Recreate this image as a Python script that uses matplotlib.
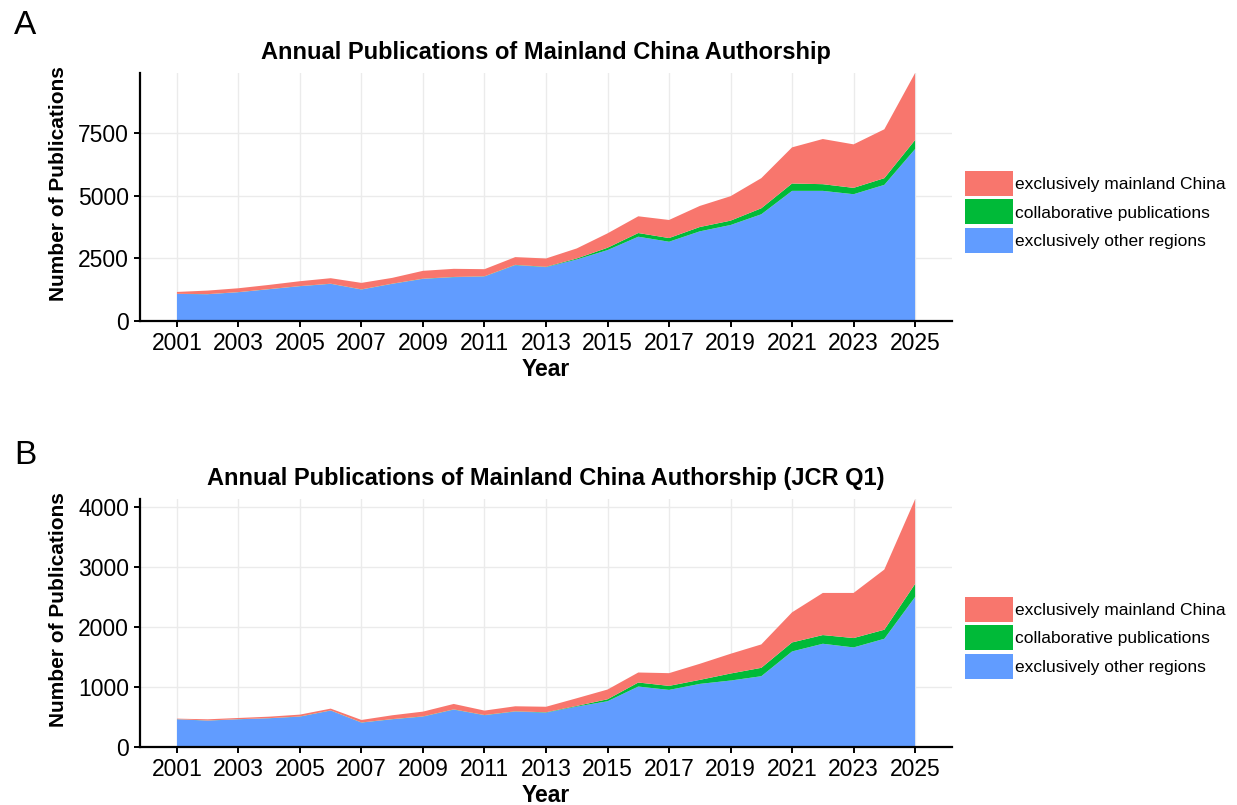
import numpy as np
import matplotlib
matplotlib.use("Agg")
import matplotlib.pyplot as plt
from matplotlib.patches import Patch

plt.rcParams['font.family'] = ['Liberation Sans', 'DejaVu Sans']

years = list(range(2001, 2026))
series_labels = ["exclusively mainland China", "collaborative publications", "exclusively other regions"]
colors = ["#F8766D", "#00BA38", "#619CFF"]

# all journals
all_other = [1081, 1068, 1148, 1268, 1388, 1482, 1255, 1482, 1682, 1749, 1776, 2229, 2149,
             2456, 2830, 3364, 3164, 3578, 3831, 4259, 5193, 5193, 5060, 5433, 6862]
all_collab = [5, 5, 5, 6, 6, 7, 7, 8, 8, 9, 10, 12, 14,
              40, 94, 147, 147, 173, 174, 240, 294, 267, 253, 267, 360]
all_mainland = [75, 142, 155, 168, 195, 220, 260, 232, 313, 325, 283, 309, 333,
                401, 574, 668, 721, 841, 975, 1201, 1442, 1802, 1736, 1950, 2670]

# JCR Q1 journals
q1_other = [457, 435, 457, 474, 501, 602, 401, 457, 501, 618, 524, 585, 568,
            669, 758, 1003, 947, 1047, 1103, 1175, 1588, 1716, 1655, 1799, 2496]
q1_collab = [2, 2, 2, 2, 3, 3, 3, 3, 4, 4, 4, 5, 6,
             11, 33, 67, 67, 67, 117, 140, 150, 145, 156, 151, 217]
q1_mainland = [9, 20, 20, 25, 31, 30, 42, 64, 80, 91, 74, 84, 92,
               128, 162, 167, 212, 268, 329, 390, 502, 702, 752, 1003, 1410]

fig = plt.figure(figsize=(12.37, 8.05), dpi=100)

panels = [
    ("A", "Annual Publications of Mainland China Authorship",
     all_other, all_collab, all_mainland, [0, 2500, 5000, 7500], [0.1132, 0.6012, 0.6564, 0.308]),
    ("B", "Annual Publications of Mainland China Authorship (JCR Q1)",
     q1_other, q1_collab, q1_mainland, [0, 1000, 2000, 3000, 4000], [0.1132, 0.0724, 0.6564, 0.3073]),
]

for letter, title, other, collab, mainland, yticks, rect in panels:
    ax = fig.add_axes(rect)
    ax.stackplot(years, other, collab, mainland,
                 colors=[colors[2], colors[1], colors[0]], linewidth=0)
    total = np.array(other) + np.array(collab) + np.array(mainland)
    ax.set_ylim(0, total.max())
    ax.set_xlim(2001 - 1.2, 2025 + 1.2)
    ax.set_xticks(range(2001, 2026, 2))
    ax.set_yticks(yticks)
    ax.grid(True, color="#EBEBEB", linewidth=1.0)
    ax.set_axisbelow(True)
    for s in ["top", "right"]:
        ax.spines[s].set_visible(False)
    for s in ["left", "bottom"]:
        ax.spines[s].set_linewidth(1.6)
    ax.tick_params(direction="out", length=4, width=1.4, labelsize=16.5, colors="black", pad=4)
    ax.set_xlabel("Year", fontsize=16.5, fontweight="bold", labelpad=2)
    ax.set_ylabel("Number of Publications", fontsize=15, fontweight="bold")
    ax.yaxis.set_label_coords(-0.089, 0.555)
    ax.set_title(title, fontsize=17, fontweight="bold", pad=10)

    handles = [Patch(facecolor=c, edgecolor="none") for c in colors]
    ax.legend(handles, series_labels, loc="center left", bbox_to_anchor=(1.016, 0.44),
              frameon=False, fontsize=12.5, handlelength=2.75, handleheight=1.84,
              handletextpad=0.12, labelspacing=0.2, borderaxespad=0, borderpad=0)

fig.text(14 / 1237, 1 - 26 / 805, "A", fontsize=24, va="center", ha="left")
fig.text(14 / 1237, 1 - 455 / 805, "B", fontsize=24, va="center", ha="left")

fig.savefig("out.png", dpi=100, facecolor="white")
